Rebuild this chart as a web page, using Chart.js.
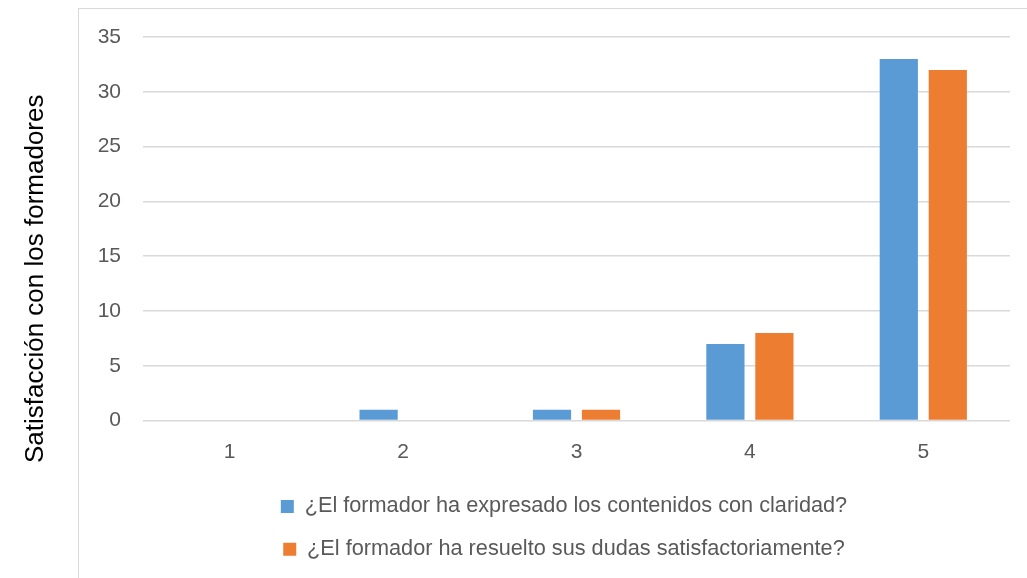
<!DOCTYPE html>
<html>
<head>
<meta charset="utf-8">
<script src="https://cdn.jsdelivr.net/npm/chart.js@4"></script>
<style>
  html, body { margin: 0; padding: 0; background: #fff; }
  #wrap { position: relative; width: 1027px; height: 578px; overflow: hidden; }
  #frame { position: absolute; left: 78px; top: 8px; width: 1000px; height: 600px;
           border-left: 1px solid #d9d9d9; border-top: 1px solid #d9d9d9; }
  #chart { position: absolute; left: 0; top: 0; }
</style>
</head>
<body>
<div id="wrap">
  <div id="frame"></div>
  <canvas id="chart" width="1027" height="578"></canvas>
</div>
<script>
// data
const categories = ['1', '2', '3', '4', '5'];
const claridad = [0, 1, 1, 7, 33];
const dudas = [0, 0, 1, 8, 32];
const seriesNames = [
    '¿El formador ha expresado los contenidos con claridad?',
    '¿El formador ha resuelto sus dudas satisfactoriamente?'
];
const yTicks = [0, 5, 10, 15, 20, 25, 30, 35];
const yTitle = 'Satisfacción con los formadores';

const font = "'Liberation Sans', Arial, sans-serif";
const grey = '#595959';

// the original centres the legend and the axis title on the whole figure,
// not on the canvas / plot area, so nudge them after layout
const nudge = {
    id: 'nudge',
    afterLayout(chart) {
        chart.legend.left += 51;
        chart.legend.right += 51;
        chart.scales.y.bottom += 100;
    }
};

new Chart(document.getElementById('chart').getContext('2d'), {
    type: 'bar',
    data: {
        labels: categories,
        datasets: [
            { label: seriesNames[0], data: claridad, backgroundColor: '#5b9bd5', borderWidth: 0 },
            { label: seriesNames[1], data: dudas, backgroundColor: '#ed7d31', borderWidth: 0 }
        ]
    },
    options: {
        responsive: false,
        animation: false,
        datasets: { bar: { categoryPercentage: 0.565, barPercentage: 0.78 } },
        layout: { padding: { left: 16, right: 17, top: 37, bottom: 8 } },
        plugins: {
            tooltip: { enabled: false },
            legend: {
                position: 'bottom',
                labels: {
                    boxWidth: 13,
                    boxHeight: 13,
                    padding: 21,
                    color: grey,
                    font: { family: font, size: 21.7 }
                }
            }
        },
        scales: {
            x: {
                afterFit: (s) => { s.height = 54; },
                grid: { display: false, drawTicks: false },
                border: { display: false },
                ticks: { color: grey, padding: 19, font: { family: font, size: 21 } }
            },
            y: {
                min: yTicks[0],
                max: yTicks[yTicks.length - 1],
                afterFit: (s) => { s.width = 127; },
                afterBuildTicks: (s) => { s.ticks = yTicks.map(v => ({ value: v })); },
                grid: { color: '#d9d9d9', lineWidth: 1.5, drawTicks: false },
                border: { display: false },
                ticks: { color: grey, padding: 22, font: { family: font, size: 21 } },
                title: {
                    display: true,
                    text: yTitle,
                    color: '#000',
                    font: { family: font, size: 26 }
                }
            }
        }
    },
    plugins: [nudge]
});
</script>
</body>
</html>
